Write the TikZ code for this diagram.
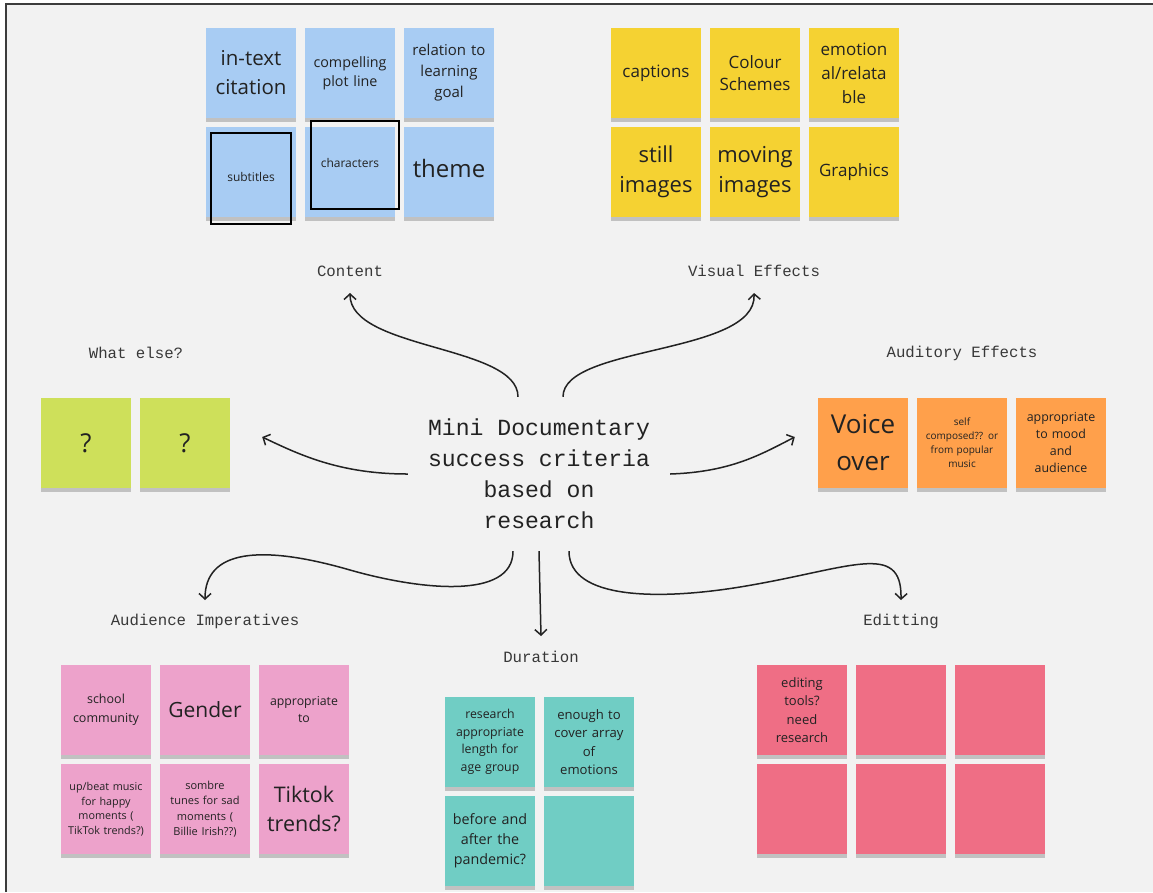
\documentclass[tikz,border=0pt]{standalone}
\usepackage{fontspec}
\setmainfont{Open Sans}
\newfontfamily\plexfont{Liberation Mono}
\usetikzlibrary{arrows.meta}
\usetikzlibrary{shadows}
\usetikzlibrary{positioning}
\definecolor{board}{RGB}{242,242,242}
\definecolor{edge}{RGB}{60,60,60}
\definecolor{ink}{RGB}{34,34,34}
\definecolor{noteblue}{RGB}{168,204,243}
\definecolor{noteyellow}{RGB}{245,210,50}
\definecolor{notegreen}{RGB}{206,224,90}
\definecolor{noteorange}{RGB}{255,160,75}
\definecolor{notepink}{RGB}{237,162,203}
\definecolor{noteteal}{RGB}{112,205,196}
\definecolor{notered}{RGB}{239,110,133}
\tikzset{sticky/.style = {fill = #1, minimum size = 90pt, inner sep = 1pt, text width = 88pt, align = center, text = ink,
    drop shadow = {shadow xshift = 0pt, shadow yshift = -4pt, opacity = 0.2, fill = black}}}
\tikzset{tag/.style = {font = \plexfont\fontsize{15.7pt}{19pt}\selectfont, text = ink!90, inner sep = 0}}
\tikzset{hub/.style = {font = \plexfont\fontsize{23.1pt}{31pt}\selectfont, text = ink, align = center,
    minimum width = 262pt, minimum height = 154pt, inner sep = 0}}
\tikzset{link/.style = {line width = 1.5pt, draw = ink, -{Straight Barb[length = 5.5pt, width = 12pt]}}}
\tikzset{frame/.style = {line width = 1.6pt, draw = black}}

\begin{document}
\begin{tikzpicture}[x = 1pt, y = -1pt]
    \useasboundingbox (0, 0) rectangle (1153, 892);
    \fill [white] (0, 0) rectangle (1153, 892);
    \fill [board] (6, 4) rectangle (1153, 892);
    \draw [line width = 1.5pt, edge] (6, 892) -- (6, 4) -- (1153, 4);

    \node [hub] (hub) at (539, 474) {Mini Documentary\\success criteria\\based on\\research};

    \node [tag] (content) at (350, 271) {Content};
    \node [tag] (visual) at (754, 271) {Visual Effects};
    \node [tag] (whatelse) at (136, 353) {What else?};
    \node [tag] (auditory) at (962, 353) {Auditory Effects};
    \node [tag] (audience) at (205, 621) {Audience Imperatives};
    \node [tag] (duration) at (541, 657) {Duration};
    \node [tag] (editting) at (901, 621) {Editting};

    % content
    \begin{scope}[shift = {(251, 73)}]
      \node [sticky = noteblue, font = \fontsize{20.5pt}{29pt}\selectfont] (citation) at (0, 0) {in-text\\citation};
      \node [sticky = noteblue, font = \fontsize{14.3pt}{19pt}\selectfont] (plot) at (99, 0) {compelling\\plot line};
      \node [sticky = noteblue, font = \fontsize{15pt}{21pt}\selectfont] (goal) at (198, 0) {relation to\\learning\\goal};
      \node [sticky = noteblue, font = \fontsize{12pt}{16pt}\selectfont, text height = 19pt] (subtitles) at (0, 99) {subtitles};
      \node [sticky = noteblue, font = \fontsize{12pt}{16pt}\selectfont, text depth = 18pt] (characters) at (99, 99) {characters};
      \node [sticky = noteblue, font = \fontsize{24pt}{30pt}\selectfont, text depth = 8pt] (theme) at (198, 99) {theme};

      \draw [frame] (-40, 60) rectangle (40, 151);
      \draw [frame] (60, 48) rectangle (148, 136);
    \end{scope}

    % visual effects
    \begin{scope}[shift = {(656, 73)}]
      \node [sticky = noteyellow, font = \fontsize{17pt}{23pt}\selectfont] (captions) at (0, 0) {captions};
      \node [sticky = noteyellow, font = \fontsize{17pt}{22pt}\selectfont] (colour) at (99, 0) {Colour\\Schemes};
      \node [sticky = noteyellow, font = \fontsize{17pt}{24pt}\selectfont] (emotion) at (198, 0) {emotion\\al/relata\\ble};
      \node [sticky = noteyellow, font = \fontsize{22pt}{30pt}\selectfont] (still) at (0, 99) {still\\images};
      \node [sticky = noteyellow, font = \fontsize{22pt}{30pt}\selectfont] (moving) at (99, 99) {moving\\images};
      \node [sticky = noteyellow, font = \fontsize{17pt}{23pt}\selectfont] (graphics) at (198, 99) {Graphics};
    \end{scope}

    % what else
    \begin{scope}[shift = {(86, 443)}]
      \node [sticky = notegreen, font = \fontsize{26pt}{30pt}\selectfont] (qa) at (0, 0) {?};
      \node [sticky = notegreen, font = \fontsize{26pt}{30pt}\selectfont] (qb) at (99, 0) {?};
    \end{scope}

    % auditory effects
    \begin{scope}[shift = {(863, 443)}]
      \node [sticky = noteorange, font = \fontsize{26pt}{37pt}\selectfont] (voice) at (0, 0) {Voice\\over};
      \node [sticky = noteorange, font = \fontsize{10pt}{14pt}\selectfont] (music) at (99, 0) {self\\composed?? or\\from popular\\music};
      \node [sticky = noteorange, font = \fontsize{12.4pt}{17pt}\selectfont] (mood) at (198, 0) {appropriate\\to mood\\and\\audience};
    \end{scope}

    % audience imperatives
    \begin{scope}[shift = {(106, 710)}]
      \node [sticky = notepink, font = \fontsize{12.5pt}{19pt}\selectfont] (school) at (0, 0) {school\\community};
      \node [sticky = notepink, font = \fontsize{21pt}{26pt}\selectfont] (gender) at (99, 0) {Gender};
      \node [sticky = notepink, font = \fontsize{12.3pt}{17pt}\selectfont] (approp) at (198, 0) {appropriate\\to};
      \node [sticky = notepink, font = \fontsize{10.8pt}{14.5pt}\selectfont] (upbeat) at (0, 99) {up/beat music\\for happy\\moments (\\TikTok trends?)};
      \node [sticky = notepink, font = \fontsize{11pt}{15.5pt}\selectfont] (sombre) at (99, 99) {sombre\\tunes for sad\\moments (\\Billie Irish??)};
      \node [sticky = notepink, font = \fontsize{21.5pt}{29pt}\selectfont] (tiktok) at (198, 99) {Tiktok\\trends?};
    \end{scope}

    % duration
    \begin{scope}[shift = {(490, 742)}]
      \node [sticky = noteteal, font = \fontsize{12.3pt}{17.5pt}\selectfont] (length) at (0, 0) {research\\appropriate\\length for\\age group};
      \node [sticky = noteteal, font = \fontsize{13.1pt}{18.5pt}\selectfont] (array) at (99, 0) {enough to\\cover array\\of\\emotions};
      \node [sticky = noteteal, font = \fontsize{14.3pt}{20pt}\selectfont] (pandemic) at (0, 99) {before and\\after the\\pandemic?};
      \node [sticky = noteteal] (tealblank) at (99, 99) {};
    \end{scope}

    % editting
    \begin{scope}[shift = {(802, 710)}]
      \node [sticky = notered, font = \fontsize{13pt}{18.5pt}\selectfont] (tools) at (0, 0) {editing\\tools?\\need\\research};
      \node [sticky = notered] (reda) at (99, 0) {};
      \node [sticky = notered] (redb) at (198, 0) {};
      \node [sticky = notered] (redc) at (0, 99) {};
      \node [sticky = notered] (redd) at (99, 99) {};
      \node [sticky = notered] (rede) at (198, 99) {};
    \end{scope}

    % arrows out of the hub
    \draw [link] ([xshift = -21pt]hub.north) .. controls (518, 345) and (350, 350) .. ([yshift = -22pt]content.center);
    \draw [link] ([xshift = 24pt]hub.north) .. controls (563, 345) and (757, 355) .. ([yshift = -22pt]visual.center);
    \draw [link] (hub.west) .. controls (340, 474) and (300, 455) .. ([xshift = 32pt, yshift = 6pt]qb.east);
    \draw [link] (hub.east) .. controls (730, 472) and (760, 455) .. ([xshift = -23pt, yshift = 6pt]voice.west);
    \draw [link] ([xshift = -26pt]hub.south) .. controls (513, 600) and (420, 590) .. (350, 570)
      .. controls (260, 544) and (205, 550) .. ([yshift = 21pt]audience.center);
    \draw [link] (hub.south) -- ([yshift = 21pt]duration.center);
    \draw [link] ([xshift = 30pt]hub.south) .. controls (569, 600) and (660, 600) .. (740, 587)
      .. controls (850, 569) and (902, 540) .. ([yshift = 21pt]editting.center);
  \end{tikzpicture}
\end{document}
